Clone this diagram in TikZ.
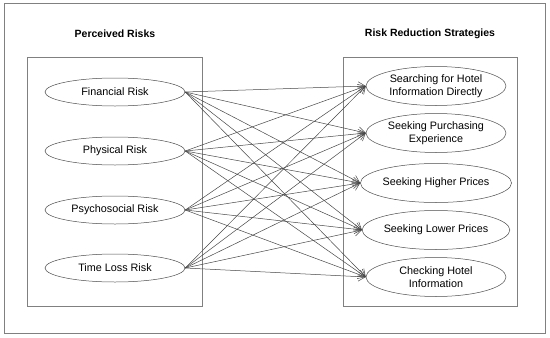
\documentclass[tikz,border=0pt]{standalone}
\usepackage{fontspec}
\setmainfont{Liberation Sans}
\usepackage{tikz}
\usetikzlibrary{arrows.meta,positioning,shapes.geometric}

\begin{document}
\begin{tikzpicture}[
    x=1pt, y=-1pt,
    frame/.style={draw=black!50, line width=0.7pt},
    risk/.style={draw=black!70, ellipse, line width=0.5pt,
                 minimum width=140pt, minimum height=28pt,
                 inner sep=0pt, font=\fontsize{10.8}{13}\selectfont},
    strat/.style={draw=black!70, ellipse, line width=0.5pt, align=center,
                  minimum width=140pt, minimum height=39pt,
                  inner sep=0pt, font=\fontsize{10.8}{13}\selectfont},
    ttl/.style={font=\bfseries\fontsize{10.5}{12}\selectfont},
    arr/.style={-{Straight Barb[length=7pt,width=9pt]}, draw=black!72, line width=0.5pt}
]
\useasboundingbox (0,0) rectangle (550,338);

% cadres
\draw[frame] (4,3) rectangle (545,333);
\draw[frame] (27,57) rectangle (202,306);
\draw[frame] (343,57) rectangle (517,306);

% titres
\node[ttl] (tl) at (115,34) {Perceived Risks};
\node[ttl] (tr) at (430,34) {Risk Reduction Strategies};

% Risques perçus
\node[risk] (r1) at (115, 92) {Financial Risk};
\node[risk] (r2) at (115,151) {Physical Risk};
\node[risk] (r3) at (115,210) {Psychosocial Risk};
\node[risk] (r4) at (115,268) {Time Loss Risk};

% Stratégies
\node[strat] (s1) at (436, 86) {Searching for Hotel\\Information Directly};
\node[strat] (s2) at (436,133) {Seeking Purchasing\\Experience};
\node[strat] (s3) at (436,183) {Seeking Higher Prices};
\node[strat] (s4) at (436,230) {Seeking Lower Prices};
\node[strat] (s5) at (436,277) {Checking Hotel\\Information};

% r1 → stratégies
\draw[arr] (r1.east) -- (s1.west);
\draw[arr] (r1.east) -- (s2.west);
\draw[arr] (r1.east) -- (s3.west);
\draw[arr] (r1.east) -- (s4.west);
\draw[arr] (r1.east) -- (s5.west);

% r2 → stratégies
\draw[arr] (r2.east) -- (s1.west);
\draw[arr] (r2.east) -- (s2.west);
\draw[arr] (r2.east) -- (s3.west);
\draw[arr] (r2.east) -- (s4.west);
\draw[arr] (r2.east) -- (s5.west);

% r3 → stratégies
\draw[arr] (r3.east) -- (s1.west);
\draw[arr] (r3.east) -- (s2.west);
\draw[arr] (r3.east) -- (s3.west);
\draw[arr] (r3.east) -- (s4.west);
\draw[arr] (r3.east) -- (s5.west);

% r4 → stratégies
\draw[arr] (r4.east) -- (s1.west);
\draw[arr] (r4.east) -- (s2.west);
\draw[arr] (r4.east) -- (s3.west);
\draw[arr] (r4.east) -- (s4.west);
\draw[arr] (r4.east) -- (s5.west);
\end{tikzpicture}
\end{document}
